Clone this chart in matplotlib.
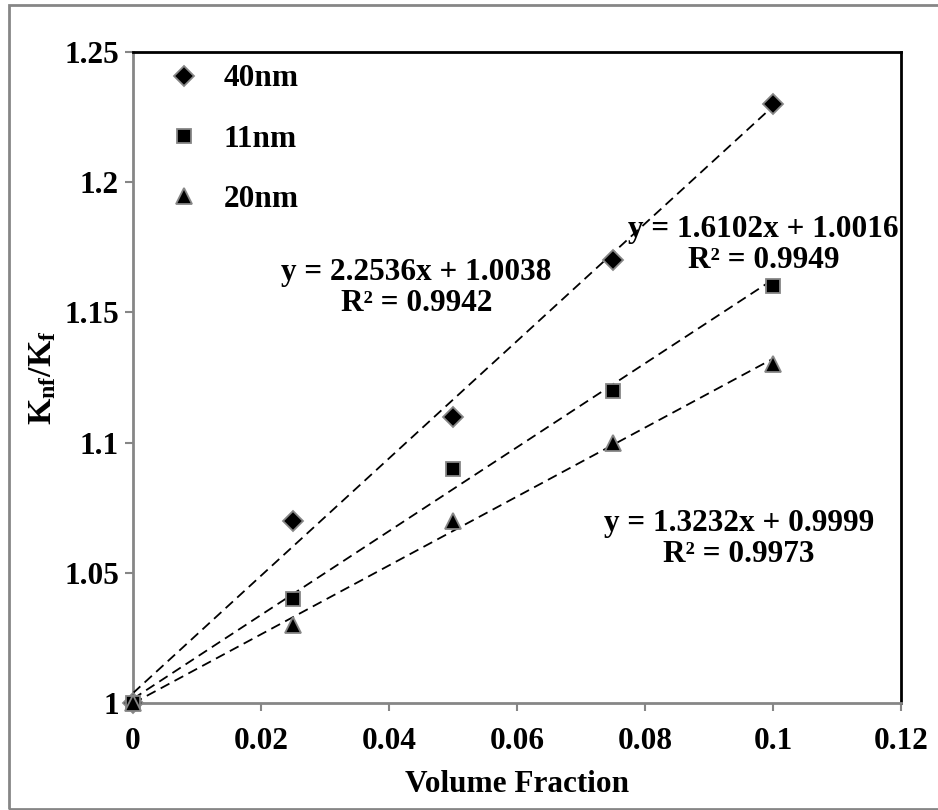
import matplotlib
matplotlib.use("Agg")
import matplotlib.pyplot as plt
from matplotlib.patches import Rectangle
import numpy as np

# data
labels = ["40nm", "11nm", "20nm"]
x_vals = [0.0, 0.025, 0.05, 0.075, 0.1]
y_40 = [1.0, 1.07, 1.11, 1.17, 1.23]
y_11 = [1.0, 1.04, 1.09, 1.12, 1.16]
y_20 = [1.0, 1.03, 1.07, 1.10, 1.13]

# trendline coefficients printed on the chart (slope, intercept, R2)
slopes = [2.2536, 1.6102, 1.3232]
intercepts = [1.0038, 1.0016, 0.9999]
r2_vals = [0.9942, 0.9949, 0.9973]
eq_pos = [(0.0443, 1.1594), (0.0985, 1.1759), (0.0947, 1.0630)]

xticks = [0, 0.02, 0.04, 0.06, 0.08, 0.1, 0.12]
xtick_labels = ["0", "0.02", "0.04", "0.06", "0.08", "0.1", "0.12"]
yticks = [1.0, 1.05, 1.1, 1.15, 1.2, 1.25]
ytick_labels = ["1", "1.05", "1.1", "1.15", "1.2", "1.25"]

plt.rcParams["font.family"] = "Liberation Serif"
plt.rcParams["font.weight"] = "bold"
plt.rcParams["mathtext.fontset"] = "custom"
plt.rcParams["mathtext.rm"] = "Liberation Serif:bold"
plt.rcParams["mathtext.it"] = "Liberation Serif:italic:bold"
plt.rcParams["mathtext.bf"] = "Liberation Serif:bold"

grey = "#868686"
fs = 22.5

fig = plt.figure(figsize=(9.38, 8.10), dpi=100)
ax = fig.add_axes([133 / 938, 1 - 703 / 810, (901 - 133) / 938, (703 - 52) / 810])

markers = ["D", "s", "^"]
msizes = [10, 9.5, 11.5]
series = [y_40, y_11, y_20]
for ys, lab, mk, ms in zip(series, labels, markers, msizes):
    ax.plot(x_vals, ys, linestyle="none", marker=mk, markersize=ms,
            markerfacecolor="black", markeredgecolor=grey, markeredgewidth=1.3,
            label=lab, zorder=4, clip_on=False)

# linear trendlines
xl = np.array([0.0, 0.1])
for m, b in zip(slopes, intercepts):
    ax.plot(xl, m * xl + b, color="black", lw=1.3, dashes=[5.5, 3.2], zorder=3)

for (ex, ey), m, b, r2 in zip(eq_pos, slopes, intercepts, r2_vals):
    ax.text(ex, ey, f"y = {m:.4f}x + {b:.4f}\nR² = {r2:.4f}", ha="center", va="center",
            fontsize=fs, fontweight="bold", linespacing=1.1, zorder=5)

ax.set_xlim(0, 0.12)
ax.set_ylim(1.0, 1.25)
ax.set_xticks(xticks)
ax.set_xticklabels(xtick_labels)
ax.set_yticks(yticks)
ax.set_yticklabels(ytick_labels)
ax.tick_params(axis="both", direction="out", length=6, width=1.5, color=grey,
               labelsize=fs, pad=4)
ax.tick_params(axis="x", pad=11)

for side in ["left", "bottom"]:
    ax.spines[side].set_color(grey)
    ax.spines[side].set_linewidth(2)
for side in ["top", "right"]:
    ax.spines[side].set_color("black")
    ax.spines[side].set_linewidth(2)

ax.set_xlabel("Volume Fraction", fontsize=fs, fontweight="bold", labelpad=10)
ax.set_ylabel(r"$\mathrm{K_{nf}/K_f}$", fontsize=fs + 2, labelpad=4)

leg = ax.legend(loc="upper left", frameon=False, fontsize=fs, labelspacing=1.0,
                handlelength=1.2, handletextpad=0.65, borderaxespad=0.0,
                bbox_to_anchor=(0.026, 1.0))

# outer chart border
fig.patches.append(Rectangle((9 / 938, 1 / 810), 940 / 938, 804 / 810,
                             transform=fig.transFigure, fill=False,
                             edgecolor=grey, lw=2))

fig.savefig("out.png", dpi=100)
